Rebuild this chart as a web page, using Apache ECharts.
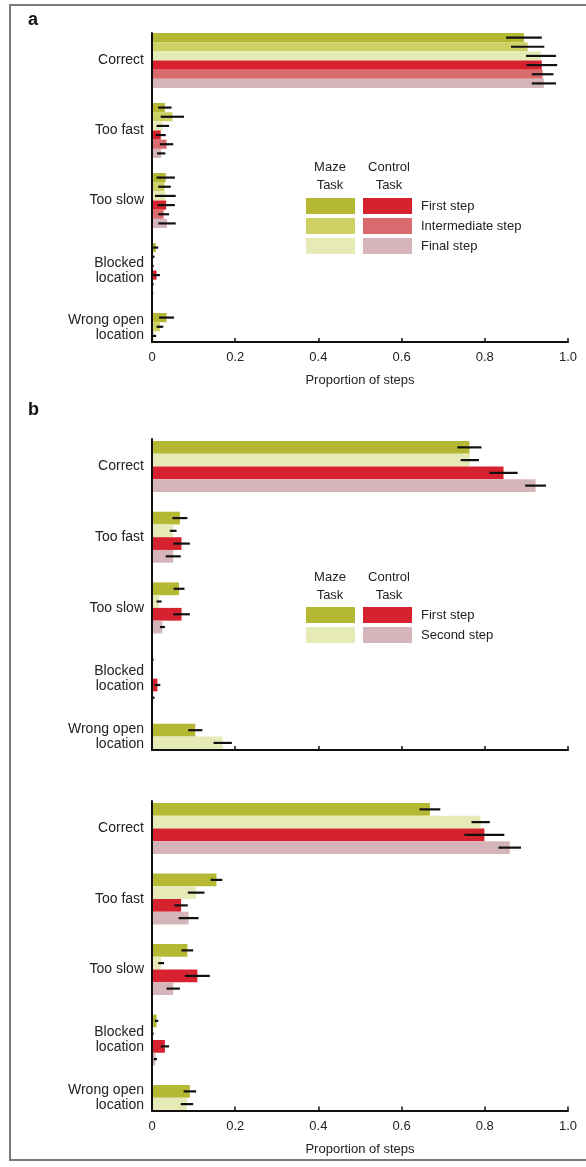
<!DOCTYPE html>
<html>
<head>
<meta charset="utf-8">
<script src="https://cdn.jsdelivr.net/npm/echarts@6/dist/echarts.min.js"></script>
<style>
html,body{margin:0;padding:0;background:#fff;}
#chart{width:586px;height:1167px;}
</style>
</head>
<body>
<div id="chart"></div>
<script>
// ---------- data ----------
const categories = ['Correct', 'Too fast', 'Too slow', 'Blocked\nlocation', 'Wrong open\nlocation'];
const xTickLabels = ['0', '0.2', '0.4', '0.6', '0.8', '1.0'];

// Panel a : maze task / control task, first / intermediate / final step
const aMazeFirst      = [0.894, 0.031, 0.033, 0.009, 0.035];
const aMazeFirstErr   = [0.043, 0.016, 0.022, 0.006, 0.018];
const aMazeInter      = [0.903, 0.049, 0.030, 0.003, 0.019];
const aMazeInterErr   = [0.040, 0.028, 0.015, 0.003, 0.008];
const aMazeFinal      = [0.935, 0.026, 0.032, 0.002, 0.006];
const aMazeFinalErr   = [0.036, 0.015, 0.025, 0.002, 0.004];
const aCtrlFirst      = [0.937, 0.021, 0.034, 0.011, null];
const aCtrlFirstErr   = [0.037, 0.012, 0.021, 0.008, null];
const aCtrlInter      = [0.939, 0.035, 0.028, 0.002, null];
const aCtrlInterErr   = [0.026, 0.016, 0.013, 0.002, null];
const aCtrlFinal      = [0.942, 0.022, 0.036, 0.001, null];
const aCtrlFinalErr   = [0.029, 0.010, 0.021, 0.002, null];

// Panel b (upper)
const b1MazeFirst     = [0.763, 0.067, 0.065, 0.002, 0.104];
const b1MazeFirstErr  = [0.029, 0.018, 0.013, 0.002, 0.017];
const b1MazeSecond    = [0.764, 0.051, 0.017, 0.001, 0.170];
const b1MazeSecondErr = [0.022, 0.008, 0.006, 0.001, 0.022];
const b1CtrlFirst     = [0.845, 0.071, 0.071, 0.013, null];
const b1CtrlFirstErr  = [0.034, 0.020, 0.020, 0.007, null];
const b1CtrlSecond    = [0.922, 0.051, 0.025, 0.003, null];
const b1CtrlSecondErr = [0.025, 0.018, 0.006, 0.003, null];

// Panel b (lower)
const b2MazeFirst     = [0.668, 0.155, 0.085, 0.011, 0.091];
const b2MazeFirstErr  = [0.025, 0.014, 0.014, 0.004, 0.015];
const b2MazeSecond    = [0.790, 0.106, 0.022, 0.002, 0.084];
const b2MazeSecondErr = [0.022, 0.020, 0.007, 0.002, 0.015];
const b2CtrlFirst     = [0.799, 0.070, 0.109, 0.031, null];
const b2CtrlFirstErr  = [0.048, 0.016, 0.030, 0.010, null];
const b2CtrlSecond    = [0.860, 0.088, 0.051, 0.008, null];
const b2CtrlSecondErr = [0.027, 0.024, 0.016, 0.004, null];

// ---------- styling ----------
const FONT = '"Liberation Sans", Arial, Helvetica, sans-serif';
const TXT = '#222';
const C = {
  mazeFirst: '#b4b832', mazeInter: '#cdd164', mazeFinal: '#e5eab6',
  ctrlFirst: '#d6222e', ctrlInter: '#d96a6d', ctrlFinal: '#d5b5b9'
};

const panels = [
  { dataGrid: { top: 25.5, height: 350 }, frame: { top: 33, height: 309 }, gap: 15 / 70, labels: true,
    series: [
      ['aMF', aMazeFirst, aMazeFirstErr, C.mazeFirst],
      ['aMI', aMazeInter, aMazeInterErr, C.mazeInter],
      ['aMN', aMazeFinal, aMazeFinalErr, C.mazeFinal],
      ['aCF', aCtrlFirst, aCtrlFirstErr, C.ctrlFirst],
      ['aCI', aCtrlInter, aCtrlInterErr, C.ctrlInter],
      ['aCN', aCtrlFinal, aCtrlFinalErr, C.ctrlFinal]
    ] },
  { dataGrid: { top: 431.15, height: 353.5 }, frame: { top: 439, height: 311 }, gap: 19.7 / 70.7, labels: false,
    series: [
      ['b1MF', b1MazeFirst, b1MazeFirstErr, C.mazeFirst],
      ['b1MS', b1MazeSecond, b1MazeSecondErr, C.mazeFinal],
      ['b1CF', b1CtrlFirst, b1CtrlFirstErr, C.ctrlFirst],
      ['b1CS', b1CtrlSecond, b1CtrlSecondErr, C.ctrlFinal]
    ] },
  { dataGrid: { top: 793.25, height: 352.5 }, frame: { top: 801, height: 309.5 }, gap: 19.5 / 70.5, labels: true,
    series: [
      ['b2MF', b2MazeFirst, b2MazeFirstErr, C.mazeFirst],
      ['b2MS', b2MazeSecond, b2MazeSecondErr, C.mazeFinal],
      ['b2CF', b2CtrlFirst, b2CtrlFirstErr, C.ctrlFirst],
      ['b2CS', b2CtrlSecond, b2CtrlSecondErr, C.ctrlFinal]
    ] }
];

const grid = [], xAxis = [], yAxis = [], series = [];

function makeErr(idx, n, gap) {
  return function (params, api) {
    const v = api.value(0), c = api.value(1), e = api.value(2);
    const center = api.coord([v, c]);
    const band = api.size([0, 1])[1];
    const group = band * (1 - gap);
    const bw = group / n;
    const y = center[1] - group / 2 + (idx + 0.5) * bw;
    const x0 = api.coord([Math.max(0, v - e), c])[0];
    const x1 = api.coord([v + e, c])[0];
    return { type: 'line', shape: { x1: x0, y1: y, x2: x1, y2: y },
             style: { stroke: '#111', lineWidth: 2.2 } };
  };
}

const lastCat = categories.length - 1;

panels.forEach((p, pi) => {
  const gData = grid.length;
  grid.push({ left: 152, right: 18, top: p.dataGrid.top, height: p.dataGrid.height, outerBoundsMode: 'none' });
  grid.push({ left: 152, right: 18, top: p.frame.top, height: p.frame.height, outerBoundsMode: 'none' });
  // data axes
  xAxis.push({ type: 'value', gridIndex: gData, min: 0, max: 1, show: false });
  yAxis.push({
    type: 'category', gridIndex: gData, inverse: true,
    data: categories,
    axisLine: { show: false }, axisTick: { show: false },
    axisLabel: {
      fontSize: 14, lineHeight: 15, color: TXT, fontFamily: FONT, margin: 8,
      formatter: (v, i) => i === lastCat ? v + '\n{s|}' : v,
      rich: { s: { height: 26, lineHeight: 26, fontSize: 14 } }
    }
  });
  // frame axes
  xAxis.push({
    type: 'value', gridIndex: gData + 1, min: 0, max: 1, interval: 0.2, z: 10,
    axisLine: { show: true, onZero: false, lineStyle: { color: '#111', width: 2 } },
    axisTick: { show: true, inside: true, length: 4, lineStyle: { color: '#111', width: 1.5 } },
    splitLine: { show: false },
    axisLabel: { show: p.labels, fontSize: 13, color: TXT, fontFamily: FONT, margin: 9,
      formatter: (v) => xTickLabels[Math.round(v * 5)] },
    name: p.labels ? 'Proportion of steps' : '',
    nameLocation: 'middle', nameGap: 32,
    nameTextStyle: { fontSize: 13, color: TXT, fontFamily: FONT }
  });
  yAxis.push({
    type: 'value', gridIndex: gData + 1, min: 0, max: 1, z: 10,
    axisLine: { show: true, onZero: false, lineStyle: { color: '#111', width: 2 } },
    axisTick: { show: false }, axisLabel: { show: false }, splitLine: { show: false }
  });
  const n = p.series.length;
  p.series.forEach((s, si) => {
    series.push({
      type: 'bar', name: s[0], xAxisIndex: gData, yAxisIndex: gData,
      data: s[1], barGap: '0%', barCategoryGap: (p.gap * 100) + '%',
      itemStyle: { color: s[3] }, silent: true, z: 2
    });
    series.push({
      type: 'custom', name: s[0] + 'err', xAxisIndex: gData, yAxisIndex: gData,
      renderItem: makeErr(si, n, p.gap), z: 5, silent: true,
      encode: { x: 0, y: 1 },
      data: s[1].map((v, ci) => v == null ? null : [v, ci, s[2][ci]]).filter(d => d)
    });
  });
});

const legendNames = {
  aCF: 'First step', aCI: 'Intermediate step', aCN: 'Final step',
  b1CF: 'First step', b1CS: 'Second step'
};
const legBase = {
  orient: 'vertical', icon: 'rect', itemWidth: 49, itemHeight: 16, itemGap: 4,
  selectedMode: false, padding: 0,
  textStyle: { fontSize: 13, color: TXT, fontFamily: FONT, padding: [0, 0, 0, 4] }
};
const legend = [
  Object.assign({}, legBase, { left: 306, top: 198, data: ['aMF', 'aMI', 'aMN'], formatter: () => '' }),
  Object.assign({}, legBase, { left: 363, top: 198, data: ['aCF', 'aCI', 'aCN'], formatter: (nm) => legendNames[nm] }),
  Object.assign({}, legBase, { left: 306, top: 607, data: ['b1MF', 'b1MS'], formatter: () => '' }),
  Object.assign({}, legBase, { left: 363, top: 607, data: ['b1CF', 'b1CS'], formatter: (nm) => legendNames[nm] })
];

const chart = echarts.init(document.getElementById('chart'), null, { renderer: 'canvas' });
chart.setOption({
  animation: false,
  backgroundColor: '#fff',
  grid, xAxis, yAxis, series, legend,
  graphic: [
    { type: 'rect', shape: { x: 10, y: 5, width: 600, height: 1155 },
      style: { fill: 'none', stroke: '#7a7a7a', lineWidth: 2 }, z: 0 },
    { type: 'text', x: 28, y: 11, style: { text: 'a', font: 'bold 18px ' + FONT, fill: '#111' } },
    { type: 'text', x: 28, y: 401, style: { text: 'b', font: 'bold 18px ' + FONT, fill: '#111' } },
    { type: 'text', x: 330, y: 158, style: { text: 'Maze\nTask', font: '13px ' + FONT, lineHeight: 18, fill: TXT, align: 'center' } },
    { type: 'text', x: 389, y: 158, style: { text: 'Control\nTask', font: '13px ' + FONT, lineHeight: 18, fill: TXT, align: 'center' } },
    { type: 'text', x: 330, y: 568, style: { text: 'Maze\nTask', font: '13px ' + FONT, lineHeight: 18, fill: TXT, align: 'center' } },
    { type: 'text', x: 389, y: 568, style: { text: 'Control\nTask', font: '13px ' + FONT, lineHeight: 18, fill: TXT, align: 'center' } }
  ]
});
</script>
</body>
</html>
